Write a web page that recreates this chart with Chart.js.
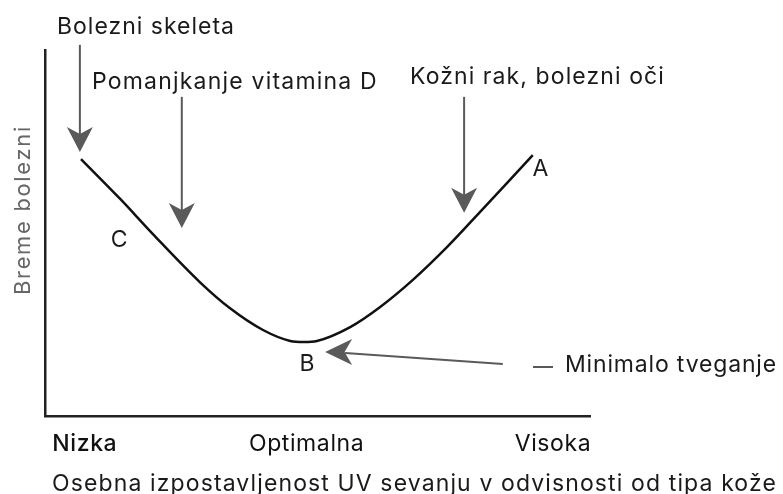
<!DOCTYPE html>
<html>
<head>
<meta charset="utf-8">
<script src="https://cdn.jsdelivr.net/npm/chart.js@4.4.1/dist/chart.umd.min.js"></script>
<style>
html,body{margin:0;padding:0;background:#fff;}
#wrap{width:783px;height:494px;position:relative;}
</style>
</head>
<body>
<div id="wrap"><canvas id="c" width="783" height="494"></canvas></div>
<script>
// ---- data (x: exposure, y: disease burden; arbitrary 0-100 units) ----
const curveX = [6.6, 13.8, 19.8, 28.4, 33.9, 40.0, 45.0, 47.5, 49.9, 56.0, 61.5, 67.5, 73.8, 79.8, 84.8, 89.5];
const curveY = [70.2, 59.3, 49.7, 36.6, 29.5, 23.5, 20.5, 20.2, 20.5, 24.3, 29.8, 37.2, 46.2, 55.7, 63.7, 71.3];
const tickValues = [7.3, 48, 93.2];
const tickLabels = ['Nizka', 'Optimalna', 'Visoka'];
const yTitle = 'Breme bolezni';
const xTitle = 'Osebna izpostavljenost UV sevanju v odvisnosti od tipa kože';
// vertical arrows: label, x, y start, y tip
const arrowLabels = ['Bolezni skeleta', 'Pomanjkanje vitamina D', 'Kožni rak, bolezni oči'];
const arrowX = [6.4, 25.1, 76.9];
const arrowYStart = [101.4, 87.2, 87.2];
const arrowYTip = [72.1, 51.4, 55.5];
// point letters
const pointLetters = ['A', 'B', 'C'];
const pointLetterX = [90.9, 48.1, 13.6];
const pointLetterY = [67.5, 14.2, 48.1];
// minimal risk arrow
const minRiskLabel = 'Minimalo tveganje';
const minRiskTip = [51.4, 17.5];
const minRiskTail = [84.0, 14.2];

const pts = curveX.map((x, i) => ({x: x, y: curveY[i]}));

function fitText(ctx, text, x, y, targetW, align) {
  ctx.letterSpacing = '0px';
  const w = ctx.measureText(text).width;
  const ls = (targetW - w) / text.length;
  ctx.letterSpacing = ls.toFixed(2) + 'px';
  ctx.textAlign = 'left';
  let left = x;
  if (align === 'center') left = x - targetW / 2;
  ctx.fillText(text, left, y);
  ctx.letterSpacing = '0px';
}

function arrowHead(ctx, tx, ty, dir, len, half, color) {
  const [dx, dy] = dir;
  const px = -dy, py = dx;
  const bx = tx - dx * len, by = ty - dy * len;
  const nx = tx - dx * len * 0.72, ny = ty - dy * len * 0.72;
  ctx.fillStyle = color;
  ctx.beginPath();
  ctx.moveTo(tx, ty);
  ctx.lineTo(bx + px * half, by + py * half);
  ctx.lineTo(nx, ny);
  ctx.lineTo(bx - px * half, by - py * half);
  ctx.closePath();
  ctx.fill();
}

const annot = {
  id: 'annot',
  beforeDraw(chart) { chart.ctx.letterSpacing = '0.6px'; },
  afterDraw(chart) {
    const ctx = chart.ctx;
    const xs = chart.scales.x, ys = chart.scales.y;
    const X = v => xs.getPixelForValue(v), Y = v => ys.getPixelForValue(v);
    ctx.save();
    ctx.letterSpacing = '0px';
    ctx.textBaseline = 'middle';
    const grey = '#5a5a5a';
    for (let i = 0; i < arrowX.length; i++) {
      const x = X(arrowX[i]), y0 = Y(arrowYStart[i]), y1 = Y(arrowYTip[i]);
      ctx.strokeStyle = grey; ctx.lineWidth = 2;
      ctx.beginPath(); ctx.moveTo(x, y0); ctx.lineTo(x, y1 - 12); ctx.stroke();
      arrowHead(ctx, x, y1, [0, 1], 25, 13, grey);
    }
    ctx.fillStyle = '#1a1a1a';
    ctx.font = '23px Inter';
    fitText(ctx, arrowLabels[0], 57, 27, 178);
    fitText(ctx, arrowLabels[1], 92, 82, 286);
    fitText(ctx, arrowLabels[2], 410, 77, 255);
    for (let i = 0; i < pointLetters.length; i++) {
      ctx.textAlign = 'center';
      ctx.fillStyle = '#1a1a1a';
      ctx.fillText(pointLetters[i], X(pointLetterX[i]), Y(pointLetterY[i]));
    }
    const tx = X(minRiskTip[0]), ty = Y(minRiskTip[1]);
    const ex = X(minRiskTail[0]), ey = Y(minRiskTail[1]);
    ctx.strokeStyle = grey; ctx.lineWidth = 2;
    ctx.beginPath(); ctx.moveTo(tx + 20, ty + 1); ctx.lineTo(ex, ey); ctx.stroke();
    arrowHead(ctx, tx, ty, [-1, 0], 27, 13, grey);
    ctx.beginPath(); ctx.moveTo(533, 367); ctx.lineTo(553, 367); ctx.stroke();
    ctx.fillStyle = '#1a1a1a';
    fitText(ctx, minRiskLabel, 565, 365, 212);
    fitText(ctx, xTitle, 52, 484, 725);
    ctx.save();
    ctx.translate(23, 210);
    ctx.rotate(-Math.PI / 2);
    ctx.fillStyle = '#666';
    ctx.font = '22px Inter';
    fitText(ctx, yTitle, 0, 0, 170, 'center');
    ctx.restore();
    ctx.restore();
  }
};

new Chart(document.getElementById('c'), {
  type: 'line',
  data: {
    datasets: [{
      data: pts,
      borderColor: '#111',
      borderWidth: 2.5,
      pointRadius: 0,
      cubicInterpolationMode: 'monotone',
      fill: false
    }]
  },
  options: {
    responsive: false,
    animation: false,
    layout: {padding: {left: 0, right: 193, top: 50, bottom: 0}},
    plugins: {legend: {display: false}, tooltip: {enabled: false}},
    scales: {
      x: {
        type: 'linear', min: 0, max: 100,
        grid: {display: false, drawTicks: false},
        border: {display: true, color: '#222', width: 2.5},
        afterFit: s => { s.height = 78; },
        afterBuildTicks: s => { s.ticks = tickValues.map(v => ({value: v})); },
        ticks: {
          padding: 14,
          color: '#111',
          font: c => ({family: 'Inter', size: 23, weight: c.index === 0 ? 500 : 400}),
          maxRotation: 0, autoSkip: false,
          callback: (v, i) => tickLabels[i]
        }
      },
      y: {
        type: 'linear', min: 0, max: 100,
        grid: {display: false, drawTicks: false},
        border: {display: true, color: '#222', width: 2.5},
        afterFit: s => { s.width = 45; },
        ticks: {display: false}
      }
    }
  },
  plugins: [annot]
});
</script>
</body>
</html>
